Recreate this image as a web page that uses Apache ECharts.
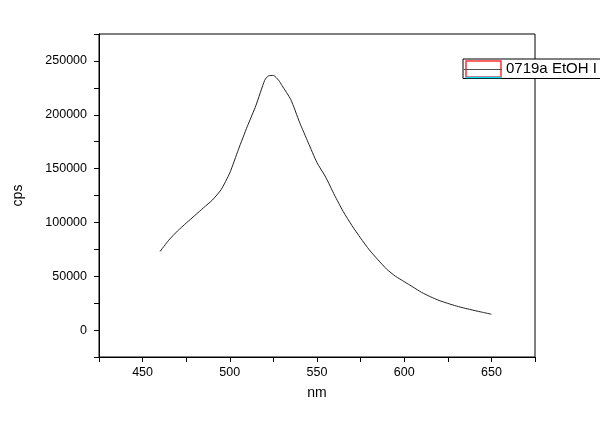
<!DOCTYPE html>
<html>
<head>
<meta charset="utf-8">
<script src="https://cdn.jsdelivr.net/npm/echarts@6/dist/echarts.min.js"></script>
<style>
  html, body { margin: 0; padding: 0; background: #fff; }
  #main { width: 600px; height: 424px; }
</style>
</head>
<body>
<div id="main"></div>
<script>
// wavelength (nm) and intensity (cps)
var wavelength = [460, 465, 470, 475, 480, 485, 490, 495, 500, 505, 510, 515, 520, 522, 525, 528, 530, 535, 540,
  545, 550, 555, 560, 565, 570, 575, 580, 585, 590, 595, 600, 605, 610, 615, 620, 625, 630, 635, 640, 645, 650];
var cps = [73000, 83500, 92000, 99400, 106500, 113700, 120800, 130400, 146000, 168000, 189000, 208700, 232000, 236000,
  236500, 232000, 227000, 214000, 193000, 174000, 155500, 142000, 125500, 110200, 97200, 85400, 74500, 65200, 56500,
  50000, 45000, 40000, 35000, 31000, 27500, 24800, 22300, 20200, 18300, 16500, 14700];
var seriesName = '0719a EtOH I';
var xTicks = [450, 500, 550, 600, 650];
var yTicks = [0, 50000, 100000, 150000, 200000, 250000];

var points = [];
for (var i = 0; i < wavelength.length; i++) {
  points.push([wavelength[i], cps[i]]);
}

var myChart = echarts.init(document.getElementById('main'));
var option = {
  animation: false,
  backgroundColor: '#fff',
  textStyle: { fontFamily: 'Liberation Sans, Arial, sans-serif' },
  grid: {
    left: 99, top: 34, right: 65, bottom: 67,
    show: true, borderColor: '#000', borderWidth: 1
  },
  legend: {
    left: 463, top: 59,
    padding: [2, 80, 2, 2],
    itemWidth: 36, itemHeight: 16,
    icon: 'none',
    backgroundColor: '#fff',
    borderColor: '#000', borderWidth: 1, borderRadius: 0,
    textStyle: { fontSize: 15, color: '#000' },
    data: [seriesName]
  },
  // legend key drawn by hand: red box, grey line, cyan underline
  graphic: {
    elements: [
      { type: 'rect', zlevel: 2, z: 10,
        shape: { x: 466, y: 61, width: 35, height: 16 },
        style: { fill: 'none', stroke: '#ff3030', lineWidth: 1.5 } },
      { type: 'line', zlevel: 2, z: 11,
        shape: { x1: 464, y1: 69.5, x2: 502, y2: 69.5 },
        style: { stroke: '#555', lineWidth: 1.2 } },
      { type: 'line', zlevel: 2, z: 12,
        shape: { x1: 466, y1: 77.5, x2: 502, y2: 77.5 },
        style: { stroke: '#00e0ff', lineWidth: 1.5 } }
    ]
  },
  xAxis: {
    type: 'value', min: 425, max: 675, interval: 25,
    name: 'nm', nameLocation: 'middle', nameGap: 29,
    nameTextStyle: { fontSize: 14, color: '#000' },
    axisLine: { onZero: false, lineStyle: { color: '#000' } },
    axisTick: { length: 5, lineStyle: { color: '#000' } },
    splitLine: { show: false },
    axisLabel: {
      fontSize: 12.5, color: '#000', margin: 9,
      formatter: function (v) { return xTicks.indexOf(v) >= 0 ? String(v) : ''; }
    }
  },
  yAxis: {
    type: 'value', min: -25000, max: 275000, interval: 25000,
    name: 'cps', nameLocation: 'middle', nameGap: 74,
    nameTextStyle: { fontSize: 14, color: '#000' },
    axisLine: { show: true, onZero: false, lineStyle: { color: '#000' } },
    axisTick: { show: true, length: 5, lineStyle: { color: '#000' } },
    splitLine: { show: false },
    axisLabel: {
      fontSize: 12.5, color: '#000', margin: 12,
      formatter: function (v) { return yTicks.indexOf(v) >= 0 ? String(v) : ''; }
    }
  },
  series: [{
    name: seriesName,
    type: 'line',
    symbol: 'none',
    smooth: 0.2,
    lineStyle: { color: '#222', width: 1 },
    itemStyle: { color: '#555' },
    data: points
  }]
};
myChart.setOption(option);
</script>
</body>
</html>
